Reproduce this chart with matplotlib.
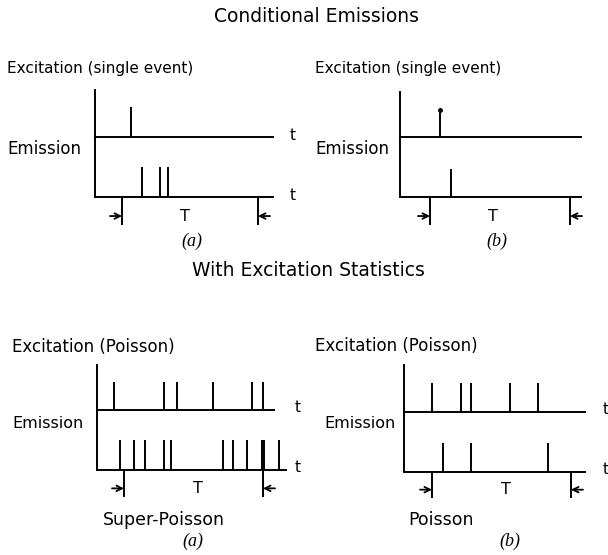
import matplotlib.pyplot as plt

# spike times, measured from each panel's vertical axis (pixel units)
exc_single_a = [36]
emi_single_a = [47, 65, 73]
exc_single_b = [40]
emi_single_b = [51]

exc_poisson_a = [17, 67, 80, 116, 155, 166]
emi_poisson_a = [23, 37, 48, 67, 74, 126, 136, 150, 165, 167, 182]
exc_poisson_b = [28, 57, 67, 106, 134]
emi_poisson_b = [39, 67, 144]

# counting window T (start, end) for each panel
window_a1 = [27, 163]
window_b1 = [30, 170]
window_a2 = [27, 166]
window_b2 = [28, 167]

titles = ["Conditional Emissions", "With Excitation Statistics"]
exc_labels = ["Excitation (single event)", "Excitation (Poisson)"]
sub_labels = ["Super-Poisson", "Poisson"]

fig = plt.figure(figsize=(6.08, 5.55), dpi=100)
ax = fig.add_axes([0, 0, 1, 1])
ax.set_xlim(0, 608)
ax.set_ylim(555, 0)
ax.axis('off')

lw = 1.4


def panel(x0, ytop, ybot, yaxis, len_top, len_bot, exc, emi, h_exc, h_emi,
          win, mark_len, t_shift, t_label=None, dot=False):
    # vertical axis and the two time baselines
    ax.plot([x0, x0], [yaxis, ybot], color='black', lw=lw)
    ax.plot([x0, x0 + len_top], [ytop, ytop], color='black', lw=lw)
    ax.plot([x0, x0 + len_bot], [ybot, ybot], color='black', lw=lw)
    ax.vlines([x0 + s for s in exc], ytop - h_exc, ytop, color='black', lw=lw)
    ax.vlines([x0 + s for s in emi], ybot - h_emi, ybot, color='black', lw=lw)
    if dot:
        ax.plot([x0 + s for s in exc], [ytop - h_exc] * len(exc), 'o',
                color='black', ms=2.5)
    # window markers
    ya = ybot + mark_len * 0.68
    ax.vlines([x0 + win[0], x0 + win[1]], ybot, ybot + mark_len,
              color='black', lw=lw)
    ax.annotate('', xy=(x0 + win[0], ya), xytext=(x0 + win[0] - 12, ya),
                arrowprops=dict(arrowstyle='->', lw=1.3, color='black',
                                shrinkA=0, shrinkB=0))
    ax.annotate('', xy=(x0 + win[1], ya), xytext=(x0 + win[1] + 12, ya),
                arrowprops=dict(arrowstyle='->', lw=1.3, color='black',
                                shrinkA=0, shrinkB=0))
    ax.text(x0 + (win[0] + win[1]) / 2 + t_shift, ya, 'T', fontsize=11.5,
            ha='center', va='center')
    if t_label is not None:
        ax.text(t_label, ytop - 2, 't', fontsize=11, ha='center', va='center')
        ax.text(t_label, ybot - 2, 't', fontsize=11, ha='center', va='center')


# titles
ax.text(317, 16, titles[0], fontsize=13.5, ha='center', va='center')
ax.text(308, 270, titles[1], fontsize=13.5, ha='center', va='center')

# top row
ax.text(7, 68, exc_labels[0], fontsize=11, ha='left', va='center')
ax.text(315, 68, exc_labels[0], fontsize=11, ha='left', va='center')
ax.text(7, 149, 'Emission', fontsize=12, ha='left', va='center')
ax.text(315, 149, 'Emission', fontsize=12, ha='left', va='center')
panel(95, 137, 197, 90, 178, 178, exc_single_a, emi_single_a, 30, 30,
      window_a1, 28, -5, t_label=293)
panel(400, 137, 197, 92, 181, 181, exc_single_b, emi_single_b, 27, 28,
      window_b1, 28, -7, dot=True)
ax.text(192, 241, '(a)', fontsize=13, family='Liberation Serif',
        style='italic', ha='center', va='center')
ax.text(497, 241, '(b)', fontsize=13, family='Liberation Serif',
        style='italic', ha='center', va='center')

# bottom row
ax.text(12, 347, exc_labels[1], fontsize=12, ha='left', va='center')
ax.text(315, 346, exc_labels[1], fontsize=12, ha='left', va='center')
ax.text(12, 423, 'Emission', fontsize=11.5, ha='left', va='center')
ax.text(324, 423, 'Emission', fontsize=11.5, ha='left', va='center')
panel(97, 410, 470, 365, 177, 189, exc_poisson_a, emi_poisson_a, 28, 30,
      window_a2, 27, 4, t_label=298)
panel(404, 412, 472, 365, 181, 181, exc_poisson_b, emi_poisson_b, 29, 29,
      window_b2, 26, 4, t_label=606)
ax.text(164, 520, sub_labels[0], fontsize=12.5, ha='center', va='center')
ax.text(441, 520, sub_labels[1], fontsize=12.5, ha='center', va='center')
ax.text(193, 541, '(a)', fontsize=13, family='Liberation Serif',
        style='italic', ha='center', va='center')
ax.text(510, 541, '(b)', fontsize=13, family='Liberation Serif',
        style='italic', ha='center', va='center')

fig.savefig('out.png', dpi=100)
